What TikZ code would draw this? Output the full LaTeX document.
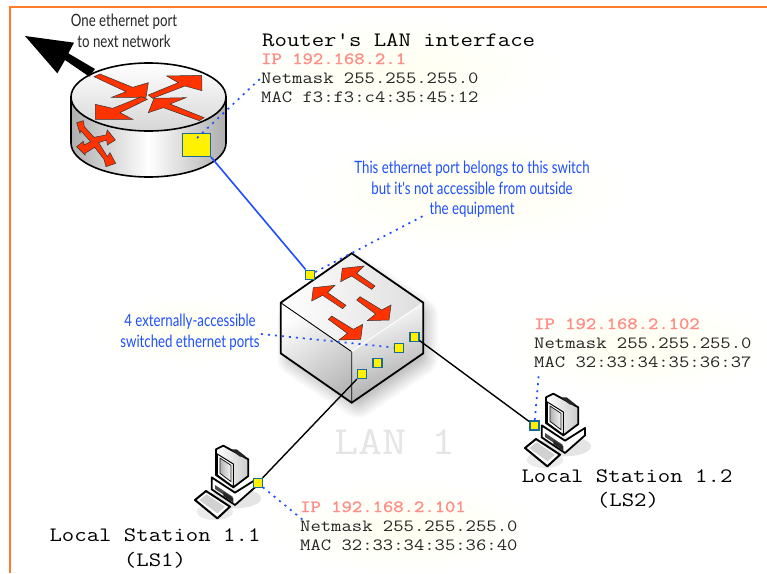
\documentclass[tikz,border=0pt]{standalone}
\usepackage{fontspec}
\usetikzlibrary{arrows.meta}
\newfontfamily\monof[FakeStretch=1.175]{Latin Modern Mono}
\newfontfamily\monob[FakeStretch=1.175,FakeBold=1.6]{Latin Modern Mono}
\newfontfamily\narrowf[FakeStretch=0.78]{Lato}
\definecolor{frameor}{HTML}{FF7A2A}
\definecolor{portedge}{HTML}{1A6B9A}
\definecolor{dotblue}{HTML}{1F4FFF}
\definecolor{arrred}{HTML}{FF3300}
\definecolor{ipred}{HTML}{FF8E86}
\definecolor{glowy}{HTML}{FFFFF0}
\tikzset{
  port/.style={rectangle,draw=portedge,fill=yellow,line width=1.4pt,minimum size=9pt,inner sep=0pt},
  bigport/.style={rectangle,draw=portedge,fill=yellow,line width=1.4pt,minimum width=28pt,minimum height=23pt,inner sep=0pt},
  dotline/.style={draw=dotblue,line width=1.7pt,dash pattern=on 2pt off 5pt},
  bluewire/.style={draw=dotblue,line width=1.6pt},
  blackwire/.style={draw=black,line width=1.4pt},
  glow/.style={inner color=glowy,outer color=white,draw=none},
  redarrow/.style={fill=arrred,draw=black!80,line width=.5pt,line join=miter},
  monotext/.style={anchor=base west,inner sep=0pt,font=\fontsize{17.1}{19}\monof,text=black!85},
  iptext/.style={anchor=base west,inner sep=0pt,font=\fontsize{17.1}{19}\monob,text=ipred},
  titletext/.style={anchor=base,inner sep=0pt,font=\fontsize{20.5}{24}\monof,text=black},
  bluetext/.style={anchor=base,inner sep=0pt,font=\fontsize{17}{20}\narrowf,text=dotblue},
  graytext/.style={anchor=base,inner sep=0pt,font=\fontsize{17}{20}\narrowf,text=black!85},
  zoomed/.style={x=0.33333pt,y=-0.33333pt},
}
\newcommand{\pcstation}[2]{%
\begin{scope}[shift={(#1,#2)},zoomed]
  \fill[black!10] (165,205) ellipse (78 and 30);
  \fill[black!8] (105,245) ellipse (55 and 25);
  % base
  \filldraw[fill=white,draw=black,line width=1.8pt,line join=round] (95,142) -- (165,188) -- (225,150) -- (225,172) -- (165,225) -- (95,178) -- cycle;
  \fill[black!70] (105,165) -- (158,200) -- (158,212) -- (105,177) -- cycle;
  \fill[black!85] (130,185) -- (160,205) -- (160,218) -- (130,198) -- cycle;
  % monitor
  \shade[left color=white,right color=black!20,draw=black,line width=1.8pt,line join=round] (108,58) -- (130,47) -- (205,88) -- (205,138) -- (160,172) -- (108,135) -- cycle;
  \fill[black!85] (152,58) -- (170,58) -- (198,80) -- (180,80) -- cycle;
  \filldraw[fill=white,draw=black,line width=1pt] (112,72) -- (160,102) -- (160,170) -- (112,135) -- cycle;
  \shade[left color=black!30,right color=black!4,draw=black!90,line width=.8pt] (120,84) -- (153,106) -- (153,155) -- (120,130) -- cycle;
  % keyboard
  \filldraw[fill=white,draw=black,line width=2pt,line join=round] (45,210) -- (78,183) -- (150,230) -- (112,265) -- cycle;
  \fill[black!18] (58,210) -- (80,193) -- (135,230) -- (112,250) -- cycle;
\end{scope}}
\begin{document}
\begin{tikzpicture}[x=1pt,y=-1pt]
\useasboundingbox (0,0) rectangle (767,573);
\fill[white] (0,0) rectangle (767,573);
% soft glows behind the texts
\shade[glow] (468,190) ellipse (165 and 58);
\shade[glow] (395,70) ellipse (165 and 55);
\shade[glow] (640,345) ellipse (140 and 50);
\shade[glow] (405,527) ellipse (135 and 48);
\shade[glow] (188,330) ellipse (95 and 35);
% frame
\draw[frameor,line width=2pt] (10,573) -- (10,7) -- (767,7);
% switch shadow
\foreach \w in {36,33,...,3}
  \draw[black,draw opacity=.02,line width=\w pt,line join=round]
    (295,358) -- (295,320) -- (352,270) -- (420,315) -- (420,358) -- (358,400) -- cycle;
% router
\shade[left color=black!32,right color=black!32,middle color=white,draw=black,line width=1.6pt]
  (71,97) -- (71,143) arc[start angle=180,end angle=0,x radius=77.5,y radius=34] -- (226,97) -- cycle;
\shade[top color=white,bottom color=black!16,draw=black,line width=1.6pt] (148.5,97) ellipse (77.5 and 34);
\begin{scope}[zoomed]
  \fill[black] (75,108) -- (222,128) -- (205,160) -- (285,207) -- (268,230) -- (195,180) -- (172,220) -- cycle;
  \draw[redarrow] (300,222) -- (398,262) -- (445,248) -- (438,292) -- (335,292) -- (378,275) -- (282,230) -- cycle;
  \draw[redarrow] (445,285) -- (535,248) -- (500,228) -- (605,226) -- (606,272) -- (555,258) -- (458,295) -- cycle;
  \draw[redarrow] (442,298) -- (360,338) -- (398,358) -- (286,358) -- (286,313) -- (338,325) -- (425,290) -- cycle;
  \draw[redarrow] (612,353) -- (510,312) -- (558,293) -- (462,295) -- (445,338) -- (490,323) -- (598,362) -- cycle;
  % crossing side icon
  \draw[redarrow] (230,368) -- (250,362) -- (253,380) -- (282,412) -- (318,405) -- (322,390) -- (346,420) -- (322,435) -- (320,420) -- (296,428) -- (322,470) -- (330,458) -- (347,490) -- (318,500) -- (312,478) -- (284,442) -- (255,460) -- (255,465) -- (230,440) -- (250,424) -- (252,435) -- (272,425) -- (242,392) -- (240,400) -- cycle;
\end{scope}
% switch
\shade[top color=white,bottom color=black!28,shading angle=35,draw=none]
  (280.7,302.7) -- (351.7,351.7) -- (351.7,402.7) -- (280.7,353.3) -- cycle;
\shade[left color=white,right color=black!35,shading angle=20,draw=none]
  (351.7,351.7) -- (423.3,302.7) -- (423.3,353.3) -- (351.7,402.7) -- cycle;
\shade[left color=white,right color=black!13,draw=none]
  (351.7,253.3) -- (423.3,302.7) -- (351.7,351.7) -- (280.7,302.7) -- cycle;
\draw[black,line width=.9pt] (280.7,302.7) -- (351.7,351.7) -- (351.7,402.7);
\draw[white,line width=.9pt] (351.7,351.7) -- (423.3,302.7);
\draw[black,line width=1.8pt,line join=miter] (351.7,253.3) -- (423.3,302.7) -- (423.3,353.3) -- (351.7,402.7) -- (280.7,353.3) -- (280.7,302.7) -- cycle;
\begin{scope}[shift={(260,240)},zoomed]
  \draw[redarrow] (345,138) -- (290,100) -- (312,78) -- (247,85) -- (242,125) -- (275,108) -- (335,148) -- cycle;
  \draw[redarrow] (258,196) -- (203,158) -- (225,136) -- (160,143) -- (155,183) -- (188,166) -- (248,206) -- cycle;
  \draw[redarrow] (300,170) -- (365,210) -- (393,195) -- (387,240) -- (322,242) -- (347,222) -- (290,180) -- cycle;
  \draw[redarrow] (215,228) -- (280,268) -- (308,253) -- (302,298) -- (237,300) -- (262,280) -- (205,238) -- cycle;
\end{scope}
% stations
\pcstation{180}{430}
\pcstation{510}{378}
% texts
\node[graytext] (t1) at (124,26) {One ethernet port};
\node[graytext] (t2) at (124,47) {to next network};
\node[titletext,anchor=base west] (t3) at (262,46) {Router's LAN interface};
\node[iptext] (t4) at (261,64) {IP 192.168.2.1};
\node[monotext] (t5) at (261,83) {Netmask 255.255.255.0};
\node[monotext] (t6) at (261,102) {MAC f3:f3:c4:35:45:12};
\node[bluetext] (t7) at (472,173) {This ethernet port belongs to this switch};
\node[bluetext] (t8) at (472,194) {but it's not accessible from outside};
\node[bluetext] (t9) at (472,214) {the equipment};
\node[bluetext] (t10) at (190,326) {4 externally-accessible};
\node[bluetext] (t11) at (190,347) {switched ethernet ports};
\node[iptext] (t12) at (534,329) {IP 192.168.2.102};
\node[monotext] (t13) at (534,348) {Netmask 255.255.255.0};
\node[monotext] (t14) at (534,367) {MAC 32:33:34:35:36:37};
\node[iptext] (t15) at (300,512) {IP 192.168.2.101};
\node[monotext] (t16) at (300,531) {Netmask 255.255.255.0};
\node[monotext] (t17) at (300,550) {MAC 32:33:34:35:36:40};
\node[titletext] (t18) at (627,482) {Local Station 1.2};
\node[titletext] (t19) at (628,506) {(LS2)};
\node[titletext] (t20) at (155,541) {Local Station 1.1};
\node[titletext] (t21) at (155,566) {(LS1)};
\node[anchor=base,inner sep=0pt,font=\fontsize{40}{44}\monof,text=black!10] (t22) at (395,454) {LAN 1};
% named anchors
\coordinate (rdot) at (197,138);
\coordinate (rtext) at (262,77);
\coordinate (etext) at (425,215);
\coordinate (stext) at (261,334);
\coordinate (iptextone) at (303,520);
\coordinate (iptexttwo) at (539,372);
% ports
\node[bigport] (rp) at (196.3,144.8) {};
\node[port] (up) at (310,274.7) {};
\node[port] (s1) at (361.7,374) {};
\node[port] (s2) at (377.3,363) {};
\node[port] (s3) at (398.7,348) {};
\node[port] (s4) at (414.3,336.7) {};
\node[port] (l1) at (257.7,483) {};
\node[port] (l2) at (534.3,425.3) {};
% connectors
\draw[bluewire] (rp.south east) -- (up);
\draw[blackwire] (s1) -- (l1);
\draw[blackwire] (s4) -- (l2);
\draw[dotline] (rdot) -- (rtext);
\draw[dotline] (up) -- (etext);
\draw[dotline] (stext) -- (s3);
\draw[dotline] (l1) -- (iptextone);
\draw[dotline] (l2) -- (iptexttwo);
\end{tikzpicture}
\end{document}
